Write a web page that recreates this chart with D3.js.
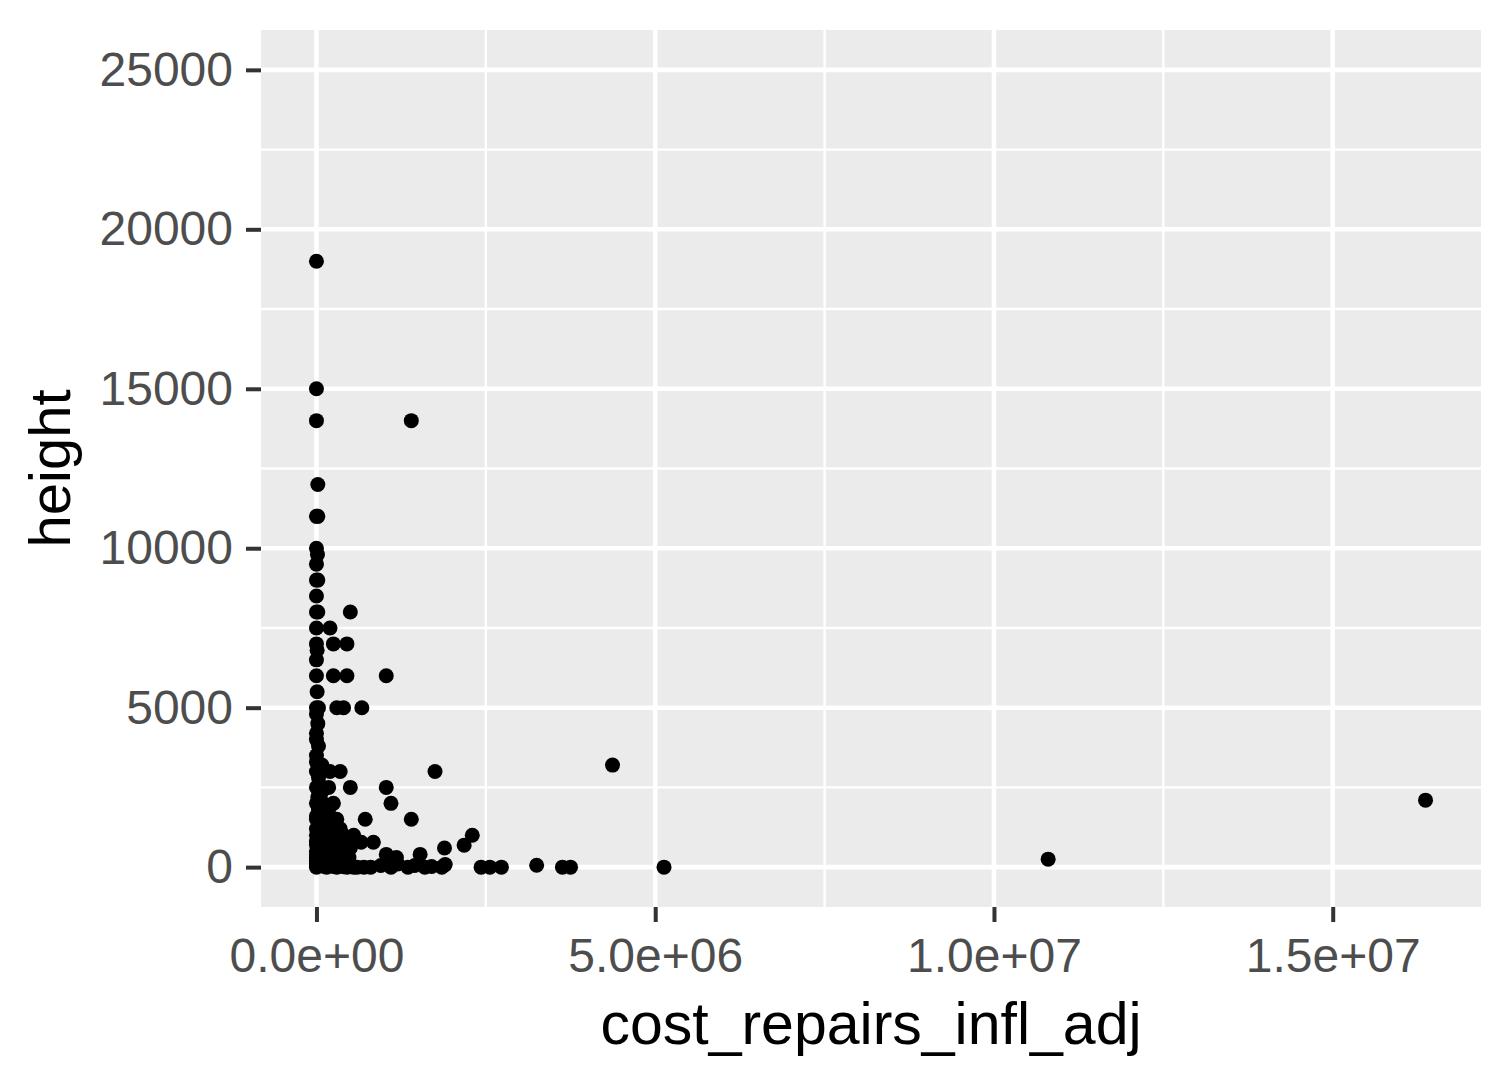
<!DOCTYPE html>
<html><head><meta charset="utf-8">
<script src="https://cdn.jsdelivr.net/npm/d3@7"></script>
<style>body{margin:0;background:#fff}svg{display:block}</style>
</head><body>
<script>
// Data: [cost_repairs_infl_adj, height]
const costRepairs = [
 0,0,0,20000,0,20000,0,15000,0,0,20000,0,0,20000,0,0,10000,0,0,10000,0,30000,0,20000,0,0,30000,0,0,80000,0,30000,0,20000,0,30000,0,0,40000,0,0,30000,0,0,20000,0,0,0,0,0,0,0,
 60000,100000,120000,80000,150000,200000,100000,250000,150000,300000,60000,120000,200000,350000,80000,250000,400000,150000,300000,450000,60000,200000,350000,500000,100000,250000,400000,550000,150000,300000,450000,600000,700000,50000,180000,130000,220000,280000,350000,180000,270000,320000,420000,480000,40000,90000,500000,380000,120000,
 1400000,500000,200000,250000,450000,250000,450000,1030000,300000,400000,670000,200000,350000,1750000,180000,500000,1030000,250000,1100000,300000,720000,1400000,400000,550000,2300000,660000,840000,1890000,2180000,1030000,1180000,1530000,4370000,16370000,10800000,5130000,
 800000,950000,1100000,1200000,1350000,1450000,1600000,1700000,1850000,1900000,2430000,2560000,2730000,3250000,3630000,3750000
];
const heights = [
 19000,15000,14000,12000,11000,11000,10000,9800,9500,9000,9000,8500,8000,8000,7500,7000,6800,6500,6000,5500,5000,5000,4800,4500,4200,4000,3800,3500,3300,3200,3000,2800,2500,2200,2000,1800,1600,1500,1400,1200,1000,900,800,700,600,500,400,300,200,100,50,0,
 2300,2000,1700,1500,1300,1200,1100,900,800,700,700,600,500,500,400,350,300,250,200,150,150,100,80,50,30,20,10,0,0,0,0,0,0,1900,1800,1400,1000,1100,1200,600,600,400,500,300,2600,2400,600,800,300,
 14000,8000,7500,7000,7000,6000,6000,6000,5000,5000,5000,3000,3000,3000,2500,2500,2500,2000,2000,1500,1500,1500,1000,1000,1000,780,780,600,690,400,300,400,3200,2100,250,0,
 0,50,0,100,0,50,0,20,0,80,0,0,0,60,0,0
];
const xTicks = [0, 5e6, 1e7, 1.5e7];
const xTickLabels = ["0.0e+00", "5.0e+06", "1.0e+07", "1.5e+07"];
const xMinor = [2.5e6, 7.5e6, 1.25e7];
const yTicks = [0, 5000, 10000, 15000, 20000, 25000];
const yTickLabels = ["0", "5000", "10000", "15000", "20000", "25000"];
const yMinor = [2500, 7500, 12500, 17500, 22500];
const yLimits = [0, 25000];
const xTitle = "cost_repairs_infl_adj";
const yTitle = "height";

const W = 1512, H = 1080;
const panel = {left: 261, right: 1481, top: 30, bottom: 907};
const font = "'Liberation Sans', Arial, Helvetica, sans-serif";

const svg = d3.select("body").append("svg").attr("width", W).attr("height", H);

const xMax = d3.max(costRepairs), xMin = 0;
const xr = xMax - xMin;
const x = d3.scaleLinear().domain([xMin - 0.05*xr, xMax + 0.05*xr]).range([panel.left, panel.right]);
const yr = yLimits[1] - yLimits[0];
const y = d3.scaleLinear().domain([yLimits[0] - 0.05*yr, yLimits[1] + 0.05*yr]).range([panel.bottom, panel.top]);

svg.append("rect").attr("x", panel.left).attr("y", panel.top)
  .attr("width", panel.right - panel.left).attr("height", panel.bottom - panel.top)
  .attr("fill", "#EBEBEB");

const g = svg.append("g");
g.selectAll(".xminor").data(xMinor).join("line")
  .attr("x1", d => x(d)).attr("x2", d => x(d)).attr("y1", panel.top).attr("y2", panel.bottom)
  .attr("stroke", "#fff").attr("stroke-width", 2.4);
g.selectAll(".yminor").data(yMinor).join("line")
  .attr("y1", d => y(d)).attr("y2", d => y(d)).attr("x1", panel.left).attr("x2", panel.right)
  .attr("stroke", "#fff").attr("stroke-width", 2.4);
g.selectAll(".xmajor").data(xTicks).join("line")
  .attr("x1", d => x(d)).attr("x2", d => x(d)).attr("y1", panel.top).attr("y2", panel.bottom)
  .attr("stroke", "#fff").attr("stroke-width", 4.6);
g.selectAll(".ymajor").data(yTicks).join("line")
  .attr("y1", d => y(d)).attr("y2", d => y(d)).attr("x1", panel.left).attr("x2", panel.right)
  .attr("stroke", "#fff").attr("stroke-width", 4.6);

// points
const pts = costRepairs.map((c, i) => ({c, h: heights[i]}));
svg.append("g").selectAll("circle").data(pts).join("circle")
  .attr("cx", d => x(d.c)).attr("cy", d => y(d.h)).attr("r", 7.5).attr("fill", "#000");

// axes
const xAxis = d3.axisBottom(x).tickValues(xTicks).tickFormat((d, i) => xTickLabels[i]).tickSize(15).tickPadding(16);
const xa = svg.append("g").attr("transform", `translate(0,${panel.bottom})`).call(xAxis);
xa.select(".domain").remove();
xa.selectAll(".tick line").attr("stroke", "#333").attr("stroke-width", 4);
xa.selectAll(".tick text").attr("fill", "#4D4D4D").style("font-family", font).style("font-size", "48px");

const yAxis = d3.axisLeft(y).tickValues(yTicks).tickFormat((d, i) => yTickLabels[i]).tickSize(15).tickPadding(13);
const ya = svg.append("g").attr("transform", `translate(${panel.left},0)`).call(yAxis);
ya.select(".domain").remove();
ya.selectAll(".tick line").attr("stroke", "#333").attr("stroke-width", 4);
ya.selectAll(".tick text").attr("fill", "#4D4D4D").style("font-family", font).style("font-size", "48px");

svg.append("text").attr("x", (panel.left + panel.right) / 2).attr("y", 1044)
  .attr("text-anchor", "middle").style("font-family", font).style("font-size", "59px").attr("fill", "#000")
  .text(xTitle);
svg.append("text").attr("transform", `translate(70,${(panel.top + panel.bottom) / 2}) rotate(-90)`)
  .attr("text-anchor", "middle").style("font-family", font).style("font-size", "58px").attr("fill", "#000")
  .text(yTitle);
</script>
</body></html>
